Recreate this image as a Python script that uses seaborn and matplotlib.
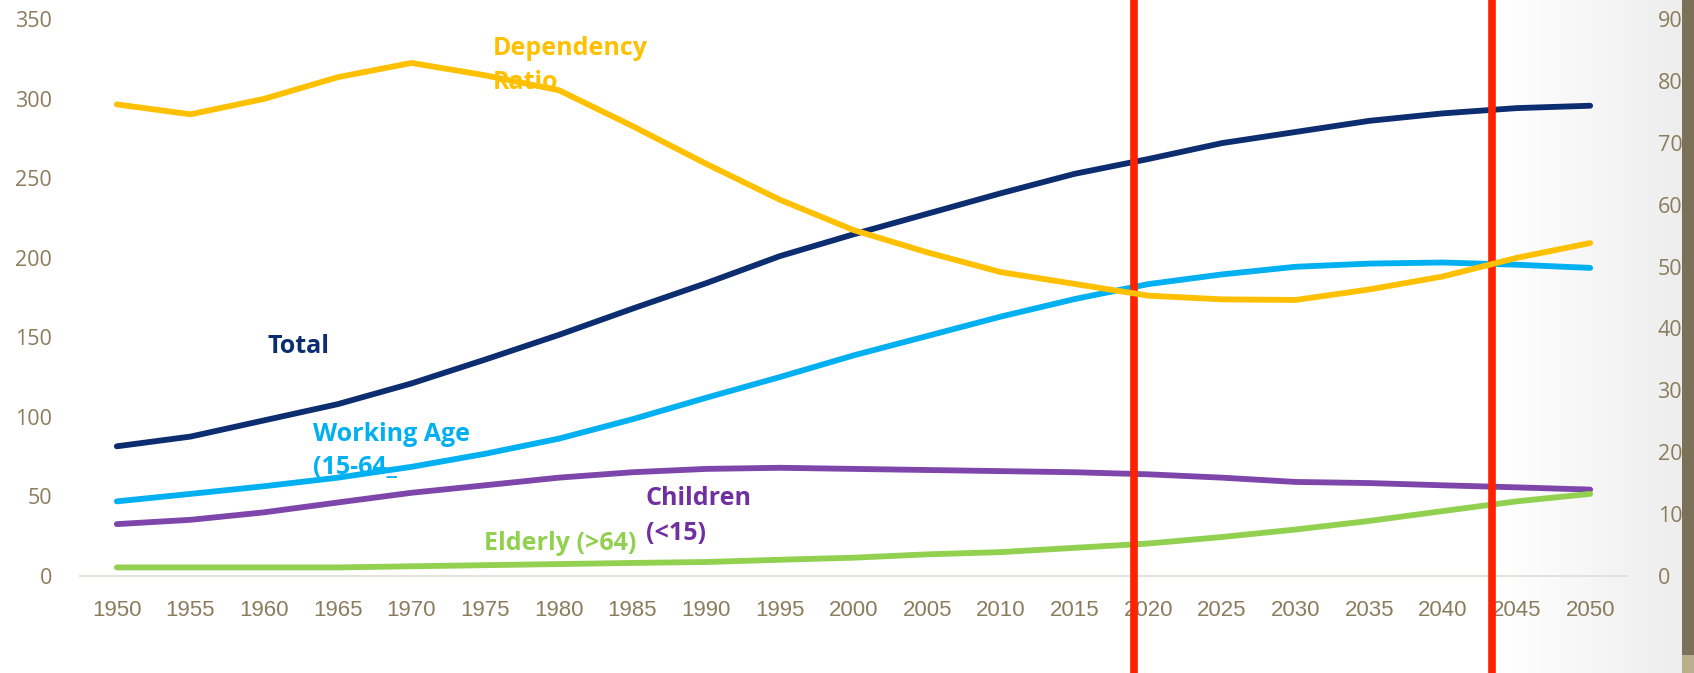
import numpy as np
import pandas as pd
import matplotlib
matplotlib.use("Agg")
import matplotlib.pyplot as plt
import seaborn as sns
from matplotlib.colors import to_rgb

years = list(range(1950, 2051, 5))
total = [81.5, 87.6, 97.8, 108, 121, 136, 151.5, 168, 184, 201, 214.7, 227.6,
         240.5, 252.7, 262, 272, 279, 286, 290.7, 294, 295.5]
working_age = [46.9, 51.6, 56.4, 61.8, 68.6, 76.8, 86.3, 98.5, 112, 125, 138.6,
               150.8, 163, 174, 183.4, 189.5, 194.3, 196.3, 197, 195.6, 193.6]
children = [32.6, 35.3, 40, 46.2, 52.3, 57, 61.8, 65.2, 67.3, 68, 67.3, 66.6,
            65.9, 65.2, 63.9, 61.8, 59.1, 58.4, 57, 55.7, 54.3]
elderly = [5.4, 5.4, 5.4, 5.4, 6.1, 6.8, 7.5, 8.2, 8.8, 10.2, 11.5, 13.6, 15,
           17.7, 20.4, 24.5, 29.2, 34.6, 40.8, 46.9, 51.6]
dependency = [76.2, 74.6, 77.1, 80.6, 82.9, 80.9, 78.5, 72.7, 66.6, 60.8, 55.9,
              52.3, 49.1, 47.2, 45.3, 44.7, 44.6, 46.3, 48.4, 51.4, 53.8]
series_names = ["Total", "Working Age", "Children", "Elderly"]
marker_years = [2019.05, 2043.35]

colors = {"Total": "#0C2D6F", "Working Age": "#00B0F0",
          "Children": "#7E46AA", "Elderly": "#92D050"}
dep_color = "#FFC000"
tick_color = "#8A7C5C"

sns.set_theme(style="white")
plt.rcParams["font.family"] = ["Open Sans", "DejaVu Sans"]

W, H = 1694, 673
fig = plt.figure(figsize=(W / 100, H / 100), dpi=100)

# background gradient + right strip
bg = fig.add_axes([0, 0, 1, 1], zorder=-10)
img = np.ones((H, W, 3))
xs = np.arange(W)
t = np.clip((xs - 1500) / (1681 - 1500), 0, 1)
shade = 1 - 0.07 * t
img[:, :, :] = shade[None, :, None]
img[:, 1681:, :] = to_rgb("#7B7159")
img[655:, 1681:, :] = to_rgb("#B9AF8C")
bg.imshow(img, aspect="auto", extent=[0, 1, 0, 1], origin="upper")
bg.axis("off")

left, right = 80 / W, 1627 / W
bottom, top = (H - 576) / H, (H - 19) / H
ax = fig.add_axes([left, bottom, right - left, top - bottom])
ax.set_facecolor("none")

df = pd.DataFrame({
    "year": years * 4,
    "value": total + working_age + children + elderly,
    "series": sum([[n] * len(years) for n in series_names], []),
})
sns.lineplot(data=df, x="year", y="value", hue="series", palette=colors,
             linewidth=4.2, ax=ax, legend=False, solid_capstyle="round",
             solid_joinstyle="round", zorder=3)

ax2 = ax.twinx()
ax2.set_facecolor("none")
sns.lineplot(x=years, y=dependency, color=dep_color, linewidth=4.2, ax=ax2,
             legend=False, solid_capstyle="round", solid_joinstyle="round")

ax.set_xlim(1947.5, 2052.5)
ax.set_ylim(0, 350)
ax2.set_ylim(0, 90)
ax.set_xticks(years)
ax.set_xticklabels([str(y) for y in years])
ax.set_yticks(range(0, 351, 50))
ax2.set_yticks(range(0, 91, 10))
ax.set_xlabel("")
ax.set_ylabel("")
ax2.set_ylabel("")

for a in (ax, ax2):
    for s in a.spines.values():
        s.set_visible(False)
    a.grid(False)
ax.spines["bottom"].set_visible(True)
ax.spines["bottom"].set_color("#E3E3DC")
ax.spines["bottom"].set_linewidth(1.5)

ax.tick_params(axis="x", length=0, pad=17, labelsize=15.5, labelcolor=tick_color)
for lbl in ax.get_xticklabels():
    lbl.set_family(["Liberation Sans Narrow", "Liberation Sans", "DejaVu Sans"])
    lbl.set_fontsize(16)
ax.tick_params(axis="y", length=0, pad=20, labelsize=15.5, labelcolor=tick_color)
ax2.tick_params(axis="y", length=0, pad=22, labelsize=15.5, labelcolor=tick_color)

# red vertical markers
for xv in marker_years:
    ax.axvline(xv, ymin=-0.3, ymax=1.1, color="#FF2200", linewidth=5.5,
               clip_on=False, zorder=10)

# inline labels
fs = 18
ax.text(1960.2, 143.9, "Total", color="#0C2D6F", fontsize=fs, fontweight="bold",
        va="center", ha="left")
ax.text(1975.5, 331.2, "Dependency", color=dep_color, fontsize=fs,
        fontweight="bold", va="center", ha="left", zorder=2)
ax.text(1975.5, 310.4, "Ratio", color=dep_color, fontsize=fs,
        fontweight="bold", va="center", ha="left", zorder=2)
ax.text(1963.3, 89.2, "Working Age", color="#00B0F0", fontsize=fs,
        fontweight="bold", va="center", ha="left")
ax.text(1963.3, 67.9, "(15-64_", color="#00B0F0", fontsize=fs,
        fontweight="bold", va="center", ha="left")
ax.text(1985.9, 49, "Children", color="#7030A0", fontsize=fs,
        fontweight="bold", va="center", ha="left")
ax.text(1985.9, 26.4, "(<15)", color="#7030A0", fontsize=fs,
        fontweight="bold", va="center", ha="left")
ax.text(1974.9, 20.7, "Elderly (>64)", color="#92D050", fontsize=fs,
        fontweight="bold", va="center", ha="left")

fig.savefig("out.png", dpi=100)
